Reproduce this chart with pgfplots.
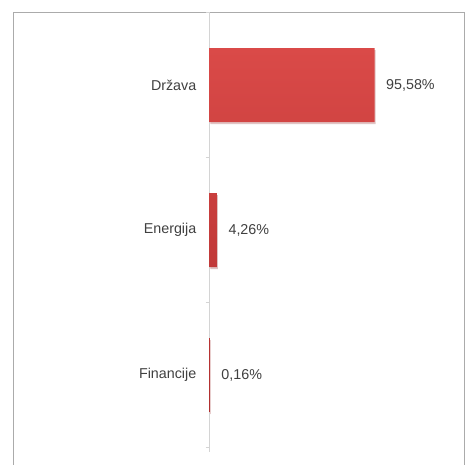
\documentclass[border=0pt]{standalone}
\usepackage{fontspec}
\setmainfont{Liberation Sans}
\usepackage{pgfplots}
\pgfplotsset{compat=1.18}
\usetikzlibrary{shadows}
\definecolor{txt}{HTML}{404040}
\definecolor{axl}{HTML}{D4D4D4}
\definecolor{frm}{HTML}{ABABAB}
\definecolor{bartop}{HTML}{DA4A48}
\definecolor{barbot}{HTML}{B02E2E}
\begin{document}
\begin{tikzpicture}[x=1pt,y=1pt]
\useasboundingbox (0,0) rectangle (470,464);
\fill[white] (0,0) rectangle (470,464);
\draw[frm, line width=1.4pt] (13.5,-5) -- (13.5,451.5) -- (464.5,451.5) -- (464.5,-5);
\begin{axis}[
  at={(209.5pt,12pt)}, anchor=south west,
  scale only axis, width=241.7pt, height=439.5pt,
  xmin=0, xmax=140,
  ymin=-0.5, ymax=2.53, y dir=reverse,
  axis y line=left, axis x line=none,
  axis line style={-, draw=axl, line width=1.3pt},
  ytick={0,1,2},
  yticklabels={Država,Energija,Financije},
  major tick length=0pt,
  minor ytick={-0.5,0.5,1.5,2.5},
  minor tick length=4pt,
  tick align=outside,
  tick style={draw=axl, line width=1pt},
  yticklabel style={anchor=east, inner sep=0pt, xshift=-13pt, font=\fontsize{14.3}{16}\selectfont, text=txt},
  xbar, bar width=0.51,
  point meta=x,
  nodes near coords={\pgfmathprintnumber[fixed,fixed zerofill,precision=2,use comma,assume math mode=true]{\pgfplotspointmeta}\%},
  nodes near coords style={anchor=west, inner sep=0pt, xshift=11.5pt, font=\fontsize{14.3}{16}\selectfont, text=txt},
  clip=false,
]
\addplot[xbar, draw=none, top color=bartop, bottom color=barbot,
  drop shadow={opacity=0.2, shadow xshift=1pt, shadow yshift=-2pt}]
  coordinates {(95.58,0) (4.26,1) (0.16,2)};
\end{axis}
\end{tikzpicture}
\end{document}
